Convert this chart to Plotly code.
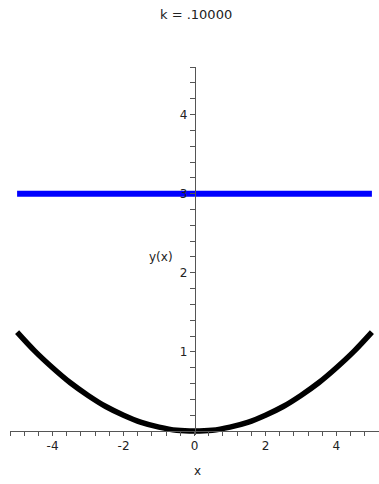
import plotly.graph_objects as go

# Solution curve y(x) sampled across the domain
x_vals = [-5.0, -4.5, -4.0, -3.5, -3.0, -2.5, -2.0, -1.5, -1.0, -0.5, 0.0,
          0.5, 1.0, 1.5, 2.0, 2.5, 3.0, 3.5, 4.0, 4.5, 5.0]
y_vals = [1.25, 1.01, 0.80, 0.61, 0.45, 0.31, 0.20, 0.11, 0.05, 0.01, 0.0,
          0.01, 0.05, 0.11, 0.20, 0.31, 0.45, 0.61, 0.80, 1.01, 1.25]

# Horizontal reference level
level_x = [-5.0, 5.0]
level_y = [3.0, 3.0]

x_ticks = [-4, -2, 0, 2, 4]
y_ticks = [0, 1, 2, 3, 4]
y_ticktext = ["", "1", "2", "3", "4"]

title_text = "k = .10000"

W, H = 379, 484
axis_color = "#555555"
family = "DejaVu Sans, sans-serif"
font = dict(family=family, size=12, color="#222222")

fig = go.Figure()
fig.add_trace(go.Scatter(x=level_x, y=level_y, mode="lines",
                         line=dict(color="#0000FF", width=6), hoverinfo="skip"))
fig.add_trace(go.Scatter(x=x_vals, y=y_vals, mode="lines",
                         line=dict(color="#000000", width=5.5, shape="spline"),
                         hoverinfo="skip"))

fig.update_layout(
    width=W, height=H,
    margin=dict(l=0, r=0, t=0, b=0),
    paper_bgcolor="white", plot_bgcolor="white",
    showlegend=False,
    font=font,
    xaxis=dict(
        domain=[10.0 / W, 1.0],
        range=[-5.2, 5.2],
        anchor="free", position=1 - 431.0 / H,
        showgrid=False, zeroline=False,
        showline=True, linecolor=axis_color, linewidth=1,
        tickvals=x_ticks, ticktext=[str(v) for v in x_ticks],
        ticks="outside", ticklen=4, tickcolor=axis_color,
        minor=dict(dtick=0.4, tick0=0, ticks="outside", ticklen=4,
                   tickcolor=axis_color, showgrid=False),
        tickfont=font,
    ),
    yaxis=dict(
        domain=[1 - 435.0 / H, 1 - 67.0 / H],
        range=[-0.05, 4.601],
        anchor="free", position=194.8 / W,
        showgrid=False, zeroline=False,
        showline=True, linecolor=axis_color, linewidth=1,
        tickvals=y_ticks, ticktext=y_ticktext,
        ticks="outside", ticklen=5, tickcolor=axis_color,
        minor=dict(dtick=0.2, tick0=0, ticks="outside", ticklen=5,
                   tickcolor=axis_color, showgrid=False),
        tickfont=font,
    ),
    annotations=[
        dict(text=title_text, xref="paper", yref="paper",
             x=196.0 / W, y=1 - 15.0 / H, xanchor="center", yanchor="middle",
             showarrow=False, font=dict(family=family, size=13, color="#222222")),
        dict(text="x", xref="paper", yref="paper",
             x=197.0 / W, y=1 - 471.0 / H, xanchor="center", yanchor="middle",
             showarrow=False, font=font),
        dict(text="y(x)", xref="paper", yref="paper",
             x=161.0 / W, y=1 - 257.0 / H, xanchor="center", yanchor="middle",
             showarrow=False, font=font),
    ],
)

fig.write_html("out.html")
